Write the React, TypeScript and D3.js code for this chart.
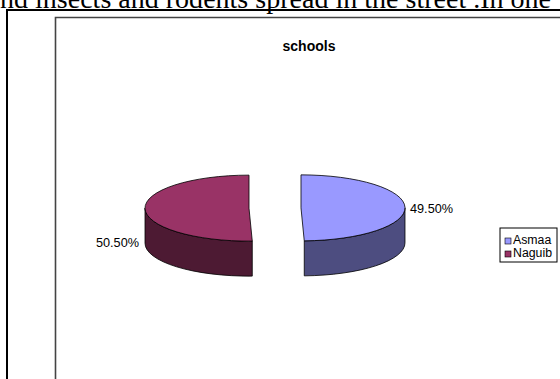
import React from "react";
import * as d3 from "d3";

const categories = ["Asmaa", "Naguib"];
const values = [49.5, 50.5];
const valueLabels = ["49.50%", "50.50%"];
const topColors = ["#9999FF", "#993366"];
const sideColors = ["#4D4D80", "#4D1A33"];
const title = "schools";
const bodyText = "nd insects and rodents spread in the street .In one";

const W = 560;
const H = 379;

export default function App() {
  const cx0 = 275;
  const cy0 = 208;
  const rx = 104;
  const ry = 33;
  const depth = 35;
  const explode = 26;

  const pie = d3.pie<number>().sort(null).startAngle(0).endAngle(2 * Math.PI);
  const arcs = pie(values);

  const pt = (cx: number, cy: number, a: number, dy = 0) => [
    cx + rx * Math.sin(a),
    cy - ry * Math.cos(a) + dy,
  ];

  const slices = arcs.map((a, i) => {
    const mid = (a.startAngle + a.endAngle) / 2;
    const cx = cx0 + explode * Math.sin(mid);
    const cy = cy0 - explode * Math.cos(mid) * (ry / rx);
    const a0 = a.startAngle;
    const a1 = a.endAngle;
    const large = a1 - a0 > Math.PI ? 1 : 0;
    const p0 = pt(cx, cy, a0);
    const p1 = pt(cx, cy, a1);
    const top = `M${cx},${cy}L${p0[0]},${p0[1]}A${rx},${ry} 0 ${large} 1 ${p1[0]},${p1[1]}Z`;
    const s = Math.max(a0, Math.PI / 2);
    const e = Math.min(a1, (3 * Math.PI) / 2);
    let side = "";
    if (e > s) {
      const t0 = pt(cx, cy, s);
      const t1 = pt(cx, cy, e);
      const b1 = pt(cx, cy, e, depth);
      const b0 = pt(cx, cy, s, depth);
      const lg = e - s > Math.PI ? 1 : 0;
      side = `M${t0[0]},${t0[1]}A${rx},${ry} 0 ${lg} 1 ${t1[0]},${t1[1]}L${b1[0]},${b1[1]}A${rx},${ry} 0 ${lg} 0 ${b0[0]},${b0[1]}Z`;
    }
    return { i, cx, cy, top, side };
  });

  const legendX = 500;
  const legendY = 228;

  return (
    <svg
      width={W}
      height={H}
      style={{ position: "absolute", left: 0, top: 0, background: "#fff" }}
    >
      <text
        x={0}
        y={8}
        fontFamily="'Liberation Serif', 'Times New Roman', serif"
        fontSize={28}
        textLength={551}
        lengthAdjust="spacing"
        fill="#000"
      >
        {bodyText}
      </text>
      <path d={`M7,${H + 2}V10H${W + 2}`} fill="none" stroke="#000" strokeWidth={2} />
      <path d={`M55.5,${H + 2}V17.5H${W + 2}`} fill="none" stroke="#444" strokeWidth={1.6} />
      <text
        x={309}
        y={51}
        textAnchor="middle"
        fontFamily="Arial, 'Liberation Sans', sans-serif"
        fontWeight="bold"
        fontSize={14}
        fill="#000"
      >
        {title}
      </text>
      {slices.map((s) => (
        <g key={s.i}>
          {s.side && (
            <path d={s.side} fill={sideColors[s.i]} stroke="#000" strokeWidth={0.8} strokeLinejoin="round" />
          )}
          <path d={s.top} fill={topColors[s.i]} stroke="#000" strokeWidth={0.8} strokeLinejoin="round" />
        </g>
      ))}
      <text
        x={410}
        y={213}
        fontFamily="Arial, 'Liberation Sans', sans-serif"
        fontSize={12.7}
        fill="#000"
      >
        {valueLabels[0]}
      </text>
      <text
        x={139}
        y={247}
        textAnchor="end"
        fontFamily="Arial, 'Liberation Sans', sans-serif"
        fontSize={12.7}
        fill="#000"
      >
        {valueLabels[1]}
      </text>
      <rect x={legendX} y={legendY} width={57} height={34} fill="#fff" stroke="#000" strokeWidth={1} />
      {categories.map((c, i) => (
        <g key={c}>
          <rect
            x={legendX + 5}
            y={legendY + 10 + i * 13}
            width={6}
            height={6}
            fill={topColors[i]}
            stroke="#000"
            strokeWidth={0.6}
          />
          <text
            x={legendX + 13}
            y={legendY + 16 + i * 13}
            fontFamily="Arial, 'Liberation Sans', sans-serif"
            fontSize={12.3}
            fill="#000"
          >
            {c}
          </text>
        </g>
      ))}
    </svg>
  );
}
